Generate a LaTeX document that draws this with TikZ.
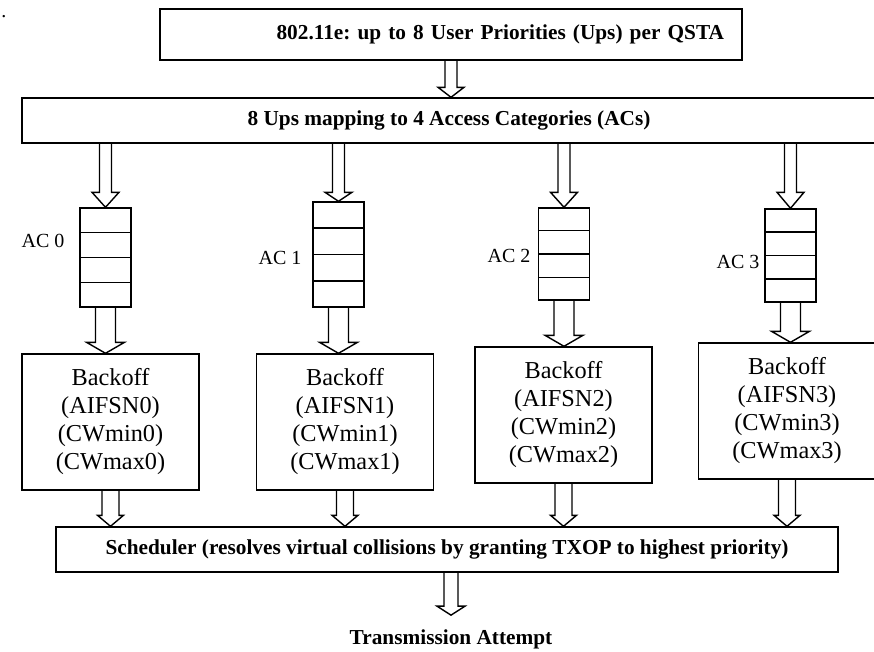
\documentclass[tikz,border=0pt]{standalone}
\usepackage{fontspec}
\setmainfont{Liberation Serif}
\usetikzlibrary{calc}

% hollow block arrow: x of #1, from y of #2 to tip at #3
\newcommand{\hollowarrow}[6]{%
  \draw[line width=1.4pt, line join=miter] let \p1=(#1), \p2=(#2), \p3=(#3) in
    (\x1-#4,\y2) -- (\x1-#4,\y3+#6) -- (\x1-#5,\y3+#6) -- (\x1,\y3)
    -- (\x1+#5,\y3+#6) -- (\x1+#4,\y3+#6) -- (\x1+#4,\y2);}

\begin{document}
\begin{tikzpicture}[x=1pt,y=-1pt,
  box/.style={draw,line width=1.4pt,inner sep=0pt},
  bold/.style={font=\bfseries\fontsize{21.3}{24}\selectfont\frenchspacing},
  queue/.style={draw,line width=1.4pt,minimum width=51pt,inner sep=0pt},
  aclabel/.style={font=\fontsize{20}{24}\selectfont,inner sep=0pt},
  backoff/.style={draw,line width=1.4pt,minimum width=177pt,minimum height=136pt,
    align=center,inner sep=0pt,font=\fontsize{24.3}{28}\selectfont}
]
\useasboundingbox (0,0) rectangle (874,651);

\node[aclabel,anchor=base] (dot) at (4,17) {.};

\node[box,bold,minimum width=582pt,minimum height=51pt,text width=546pt,
  inner xsep=18pt,align=right] (up) at (451,34.5) {802.11e: up to 8 User Priorities (Ups) per QSTA};
\node[box,bold,minimum width=854pt,minimum height=45pt] (map) at (449,120.5)
  {8 Ups mapping to 4 Access Categories (ACs)};

% queues
\foreach \i/\x/\y/\h in {0/105.5/257.5/99, 1/338.5/254.5/105, 2/564/254/92, 3/790.5/255.5/93}
  \node[queue,minimum height=\h pt] (q\i) at (\x,\y) {};
\foreach \q in {q0,q1,q2,q3}
  \foreach \k in {1,2,3}
    \draw[line width=1.4pt] ($(\q.north west)!\k/4!(\q.south west)$) -- ($(\q.north east)!\k/4!(\q.south east)$);

\foreach \i/\x/\y in {0/43/241, 1/280/258, 2/509/256, 3/738/262}
  \node[aclabel] (ac\i) at (\x,\y) {AC \i};

% backoff entities
\foreach \i/\x/\y in {0/110.5/422, 1/345/422, 2/563.5/415, 3/787/411}
  \node[backoff] (b\i) at (\x,\y) {Backoff\\(AIFSN\i)\\(CWmin\i)\\(CWmax\i)};

\node[box,bold,minimum width=782pt,minimum height=45pt] (sch) at (447,549.5)
  {Scheduler (resolves virtual collisions by granting TXOP to highest priority)};
\node[bold,inner sep=0pt] (tx) at (451,639) {Transmission Attempt};

% arrows
\hollowarrow{up.south}{up.south}{map.north}{6pt}{13pt}{10pt}
\foreach \i/\l in {0/15, 1/9, 2/15, 3/16}{
  \hollowarrow{q\i.north}{map.south}{q\i.north}{6pt}{13.5pt}{\l pt}
  \hollowarrow{q\i.south}{q\i.south}{b\i.north}{10pt}{19pt}{11pt}
  \hollowarrow{b\i.south}{b\i.south}{sch.north}{8.5pt}{13pt}{11pt}
}
\hollowarrow{tx.north}{sch.south}{[yshift=14pt]tx.north}{7pt}{14pt}{9pt}
\end{tikzpicture}
\end{document}
